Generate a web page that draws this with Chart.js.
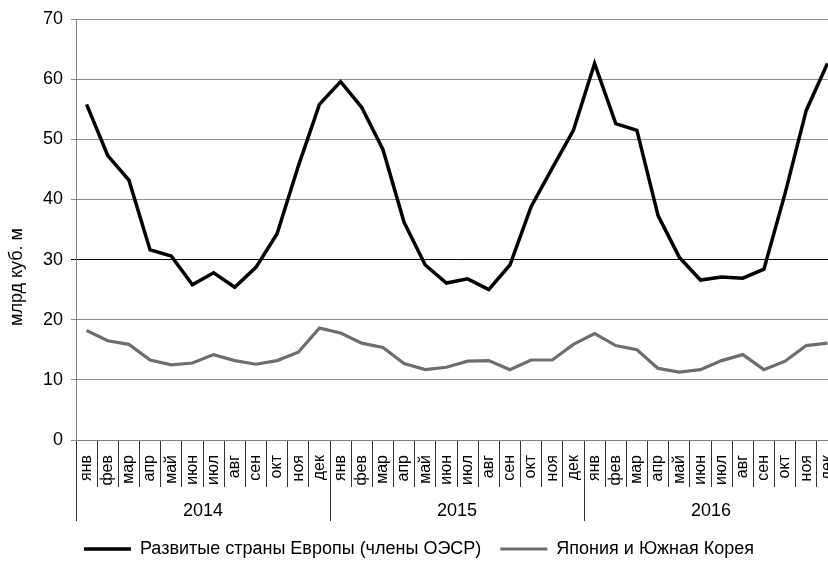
<!DOCTYPE html>
<html><head><meta charset="utf-8">
<script src="https://cdn.jsdelivr.net/npm/chart.js@4/dist/chart.umd.min.js"></script>
<style>
html,body{margin:0;padding:0;overflow:hidden;background:#fff;width:828px;height:565px}
#wrap{position:relative;width:838px;height:568px}
</style></head>
<body><div id="wrap"><canvas id="c"></canvas></div>
<script>
const months = ['янв','фев','мар','апр','май','июн','июл','авг','сен','окт','ноя','дек'];
const years = ['2014','2015','2016'];
const monthLabels = [...months, ...months, ...months];
const seriesNames = ['Развитые страны Европы (члены ОЭСР)', 'Япония и Южная Корея'];
const europe = [55.8,47.3,43.2,31.6,30.6,25.8,27.8,25.4,28.7,34.3,45.5,55.8,
                59.6,55.3,48.3,36.2,29.1,26.1,26.8,25.0,29.1,38.8,45.2,51.5,
                62.6,52.6,51.5,37.3,30.4,26.6,27.1,26.9,28.4,41.0,54.8,62.6];
const japanKorea = [18.2,16.5,15.9,13.3,12.5,12.8,14.2,13.2,12.6,13.2,14.6,18.6,
                    17.8,16.1,15.4,12.7,11.7,12.1,13.1,13.2,11.7,13.3,13.3,15.9,
                    17.7,15.7,15.0,11.9,11.3,11.7,13.2,14.2,11.7,13.1,15.7,16.1];
const yTicks = [0,10,20,30,40,50,60,70];
const yTitle = 'млрд куб. м';

const FONT = '"Liberation Sans", Arial, Helvetica, sans-serif';
Chart.defaults.font.family = FONT;
Chart.defaults.color = '#000';

const yTitlePlugin = {
  id: 'yTitle',
  afterDraw(chart, args, opts) {
    const ctx = chart.ctx;
    ctx.save();
    ctx.translate(opts.x, opts.y);
    ctx.rotate(-Math.PI / 2);
    ctx.font = opts.size + 'px ' + FONT;
    ctx.fillStyle = '#000';
    ctx.textAlign = 'center';
    ctx.textBaseline = 'middle';
    ctx.fillText(opts.text, 0, 0);
    ctx.restore();
  }
};

new Chart(document.getElementById('c'), {
  type: 'line',
  data: {
    labels: monthLabels,
    datasets: [
      { label: seriesNames[0], data: europe, borderColor: '#000', backgroundColor: '#000',
        borderWidth: 3.5, pointRadius: 0, tension: 0, fill: false },
      { label: seriesNames[1], data: japanKorea, borderColor: '#6e6e6e', backgroundColor: '#6e6e6e',
        borderWidth: 3.2, pointRadius: 0, tension: 0, fill: false }
    ]
  },
  plugins: [yTitlePlugin],
  options: {
    responsive: true, maintainAspectRatio: false, animation: false,
    layout: { padding: { top: 19, left: 0, right: 0, bottom: 0 } },
    plugins: {
      legend: {
        position: 'bottom',
        labels: { usePointStyle: true, pointStyle: 'line', pointStyleWidth: 47,
                  padding: 19, color: '#000', font: { size: 18 } }
      },
      tooltip: { enabled: false },
      yTitle: { text: yTitle, x: 17.5, y: 277, size: 18 }
    },
    scales: {
      x: {
        type: 'category', position: 'bottom', weight: 0, offset: true,
        grid: { display: true, drawOnChartArea: false, drawTicks: true, tickLength: 47,
                color: '#333', offset: true },
        border: { display: true, color: '#808080' },
        ticks: { autoSkip: false, minRotation: 90, maxRotation: 90, padding: -32,
                 color: '#000', font: { size: 16 } },
        afterFit: s => { s.height = 47; }
      },
      x2: {
        type: 'category', labels: years, position: 'bottom', weight: 1, offset: true,
        grid: { display: true, drawOnChartArea: false, drawTicks: true, tickLength: 34,
                color: '#333', offset: true },
        border: { display: false },
        ticks: { autoSkip: false, maxRotation: 0, minRotation: 0, padding: -21,
                 color: '#000', font: { size: 18 } },
        afterFit: s => { s.height = 34; }
      },
      y: {
        min: 0, max: 70,
        afterBuildTicks: s => { s.ticks = yTicks.map(v => ({ value: v })); },
        ticks: { padding: 8, color: '#000', font: { size: 18 } },
        grid: { color: c => (c.tick && c.tick.value === 30) ? '#000' : '#8c8c8c',
                tickLength: 5, drawTicks: true },
        border: { display: true, color: '#808080' },
        afterFit: s => { s.width = 76; }
      }
    }
  }
});
</script>
</body></html>
